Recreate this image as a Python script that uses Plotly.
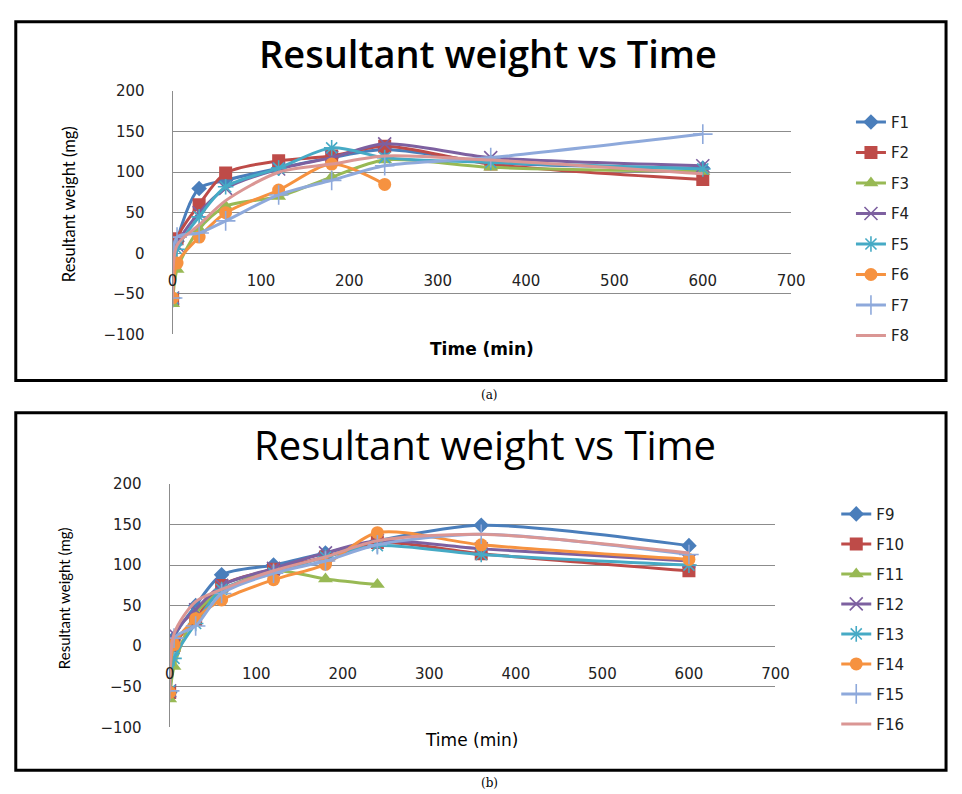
import plotly.graph_objects as go

# ---------------- data ----------------
time_min = [0, 5, 30, 60, 120, 180, 240, 360, 600]

names_a = ["F1", "F2", "F3", "F4", "F5", "F6", "F7", "F8"]
F1 = [-55, 15, 80, 90, 105, 118, 128, 112, 105]
F2 = [-57, 18, 60, 99, 114, 120, 132, 110, 91]
F3 = [-62, -20, 30, 58, 70, 94, 115, 106, 101]
F4 = [-55, 10, 50, 80, 104, 118, 135, 118, 108]
F5 = [-55, 5, 45, 82, 105, 130, 118, 112, 104]
F6 = [-55, -12, 20, 50, 78, 110, 85]
F7 = [-55, 20, 25, 40, 72, 90, 108, 118, 147]
F8 = [-55, 10, 35, 65, 100, 110, 120, 115, 98]
series_a = [F1, F2, F3, F4, F5, F6, F7, F8]

names_b = ["F9", "F10", "F11", "F12", "F13", "F14", "F15", "F16"]
F9 = [-57, 10, 50, 88, 100, 115, 130, 149, 124]
F10 = [-57, 1, 33, 75, 95, 110, 128, 114, 93]
F11 = [-65, -25, 40, 68, 93, 83, 76]
F12 = [-55, 15, 45, 75, 96, 115, 130, 120, 105]
F13 = [-55, -15, 28, 70, 90, 110, 124, 113, 100]
F14 = [-57, 2, 34, 57, 82, 101, 140, 125, 107]
F15 = [-55, 10, 25, 65, 90, 105, 125, 138, 113]
F16 = [-55, 15, 55, 70, 93, 110, 130, 138, 115]
series_b = [F9, F10, F11, F12, F13, F14, F15, F16]

y_ticks = [-100, -50, 0, 50, 100, 150, 200]
x_ticks = [0, 100, 200, 300, 400, 500, 600, 700]

# ---------------- styles ----------------
colors = ["#4A7EBB", "#BE4B48", "#98B954", "#7D60A0", "#46AAC5", "#F69240", "#8EA9DB", "#DA9694"]
symbols = ["diamond", "square", "triangle-up", "x-thin-open", "asterisk-open", "circle", "cross-thin-open", None]
sizes = [12, 13, 13, 13, 13, 13, 14, 0]

W, H = 962, 794
def px(x):
    return x / W
def py(y):
    return (H - y) / H

fig = go.Figure()

def add_series(names, series, xa, ya, legend):
    for i, (nm, vals) in enumerate(zip(names, series)):
        t = time_min[:len(vals)]
        if symbols[i] is None:
            mode = "lines"
            marker = dict()
        else:
            mode = "lines+markers"
            openm = symbols[i].endswith("open")
            marker = dict(symbol=symbols[i], size=sizes[i], color=colors[i],
                          line=dict(color=colors[i], width=1.6 if openm else 0))
        fig.add_trace(go.Scatter(
            x=t, y=vals, name=nm, mode=mode, marker=marker,
            line=dict(color=colors[i], width=3, shape="spline", smoothing=0.8),
            xaxis=xa, yaxis=ya, legend=legend, legendgroup=nm,
        ))

add_series(names_a, series_a, "x", "y", "legend")
add_series(names_b, series_b, "x2", "y2", "legend2")

tickfont = dict(family="DejaVu Sans", size=15, color="#222")
grid = "#8c8c8c"

# panel a plot area: x 171-802, y 84-333 ; panel b: x 168-786, y 486-735
ya_dom = [py(333), py(84)]
yb_dom = [py(735), py(486)]

def yaxis_cfg(dom):
    return dict(domain=dom, range=[-100, 200], tickvals=y_ticks, showgrid=True,
                gridcolor=grid, gridwidth=1, zeroline=False, showline=True,
                linecolor=grid, linewidth=1, ticks="", ticklabelstandoff=24,
                tickfont=tickfont)

def xaxis_cfg(dom, pos):
    return dict(domain=dom, range=[0, 700], tickvals=x_ticks, showgrid=False,
                zeroline=False, showline=False, ticks="", anchor="free",
                position=pos, tickfont=tickfont)

legfont = dict(family="DejaVu Sans", size=15, color="#222")
fig.update_layout(
    width=W, height=H, margin=dict(l=0, r=0, t=0, b=0),
    paper_bgcolor="white", plot_bgcolor="white",
    xaxis=xaxis_cfg([px(171), px(802)], py(267)),
    yaxis=dict(**yaxis_cfg(ya_dom), anchor="x"),
    xaxis2=xaxis_cfg([px(168), px(786)], py(669)),
    yaxis2=dict(**yaxis_cfg(yb_dom), anchor="x2"),
    legend=dict(x=px(863), y=py(99), xanchor="left", yanchor="top",
                font=legfont, tracegroupgap=8, bgcolor="rgba(0,0,0,0)"),
    legend2=dict(x=px(848), y=py(500), xanchor="left", yanchor="top",
                 font=legfont, tracegroupgap=7.5, bgcolor="rgba(0,0,0,0)"),
    showlegend=True,
)

# borders around the two panels
fig.add_shape(type="rect", xref="paper", yref="paper", x0=px(11), x1=px(960),
              y0=py(380), y1=py(13), line=dict(color="black", width=3))
fig.add_shape(type="rect", xref="paper", yref="paper", x0=px(11), x1=px(960),
              y0=py(779), y1=py(413), line=dict(color="black", width=3))

def note(text, x, y, font, angle=0):
    return dict(text=text, x=px(x), y=py(y), xref="paper", yref="paper",
                xanchor="center", yanchor="middle", textangle=angle,
                showarrow=False, font=font)

ann = [
    note("Resultant weight vs Time", 493, 45,
         dict(family="Open Sans", size=38, color="black", weight=600)),
    note("Resultant weight vs Time", 490, 446,
         dict(family="Open Sans", size=40, color="black")),
    note("Resultant weight (mg)", 66, 200, dict(family="Lato", size=16.5, color="black"), -90),
    note("Resultant weight (mg)", 61, 603, dict(family="Lato", size=15, color="black"), -90),
    note("<b>Time (min)</b>", 487, 348, dict(family="DejaVu Sans", size=17, color="black")),
    note("Time (min)", 476, 748, dict(family="DejaVu Sans", size=17, color="black")),
    note("(a)", 494, 395, dict(family="DejaVu Serif", size=12, color="black")),
    note("(b)", 494, 792, dict(family="DejaVu Serif", size=12, color="black")),
]
fig.update_layout(annotations=ann)

fig.write_html(
    "out.html",
    config={"displayModeBar": False},
    post_script=("document.body.style.margin='0px';"
                 "document.documentElement.style.overflow='hidden';"),
)
